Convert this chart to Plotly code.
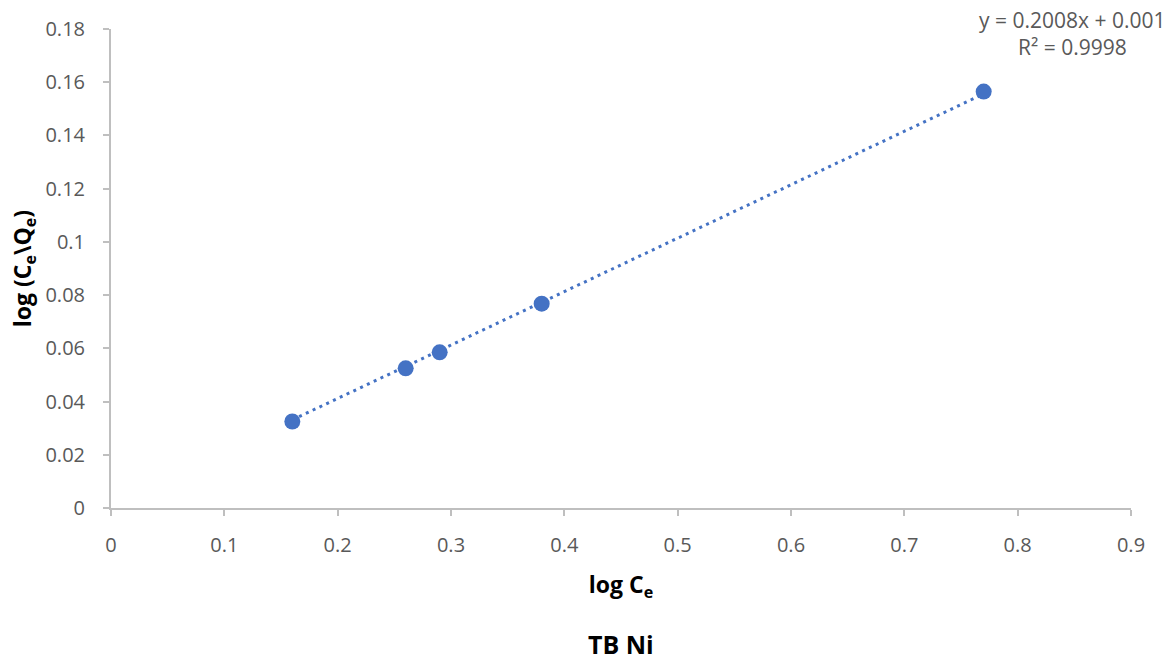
import plotly.graph_objects as go

# Freundlich-type data for TB Ni
log_ce = [0.16, 0.26, 0.29, 0.38, 0.77]
log_ce_qe = [0.0325, 0.0525, 0.0585, 0.0768, 0.1565]

# Linear fit reported on the chart
slope = 0.2008
intercept = 0.001
r_squared = 0.9998

x_ticks = [0, 0.1, 0.2, 0.3, 0.4, 0.5, 0.6, 0.7, 0.8, 0.9]
y_ticks = [0, 0.02, 0.04, 0.06, 0.08, 0.1, 0.12, 0.14, 0.16, 0.18]

FONT = "Open Sans, Liberation Sans, sans-serif"
GREY = "#595959"
AXIS = "#BFBFBF"
BLUE = "#4472C4"

fit_x = [min(log_ce), max(log_ce)]
fit_y = [slope * v + intercept for v in fit_x]

fig = go.Figure()
fig.add_trace(go.Scatter(
    x=fit_x, y=fit_y, mode="lines",
    line=dict(color=BLUE, width=3, dash="3px,4.5px"),
    hoverinfo="skip", showlegend=False,
))
fig.add_trace(go.Scatter(
    x=log_ce, y=log_ce_qe, mode="markers",
    marker=dict(color=BLUE, size=16),
    showlegend=False,
))

axis_common = dict(
    showgrid=False, zeroline=False,
    showline=True, linecolor=AXIS, linewidth=2,
    ticks="outside", ticklen=6, tickcolor=AXIS, tickwidth=2,
    tickfont=dict(size=20, color=GREY),
)

fig.update_layout(
    width=1175, height=660,
    margin=dict(l=111, r=44, t=29, b=152),
    paper_bgcolor="white", plot_bgcolor="white",
    font=dict(family=FONT, color=GREY, size=20),
    xaxis=dict(
        range=[0, 0.9], tickvals=x_ticks, ticktext=[f"{v:g}" for v in x_ticks],
        ticklabelstandoff=12,
        title=dict(text="<b>log C<sub>e</sub></b>", font=dict(size=23, color="black"), standoff=20),
        **axis_common,
    ),
    yaxis=dict(
        range=[0, 0.18], tickvals=y_ticks, ticktext=[f"{v:g}" for v in y_ticks],
        ticklabelstandoff=14,
        title=dict(text="<b>log (C<sub>e</sub>\\Q<sub>e</sub>)</b>", font=dict(size=23, color="black"), standoff=7),
        **axis_common,
    ),
    annotations=[
        dict(text=f"y = {slope}x + {intercept}",
             xref="paper", yref="paper", x=0.942, y=1.019,
             xanchor="center", yanchor="middle", showarrow=False,
             font=dict(size=21, color=GREY)),
        dict(text=f"R² = {r_squared}",
             xref="paper", yref="paper", x=0.943, y=0.962,
             xanchor="center", yanchor="middle", showarrow=False,
             font=dict(size=21, color=GREY)),
        dict(text="<b>TB Ni</b>", xref="paper", yref="paper",
             x=0.5, y=-0.284, xanchor="center", yanchor="middle",
             showarrow=False, font=dict(size=25, color="black")),
    ],
)

fig.write_html("out.html")
